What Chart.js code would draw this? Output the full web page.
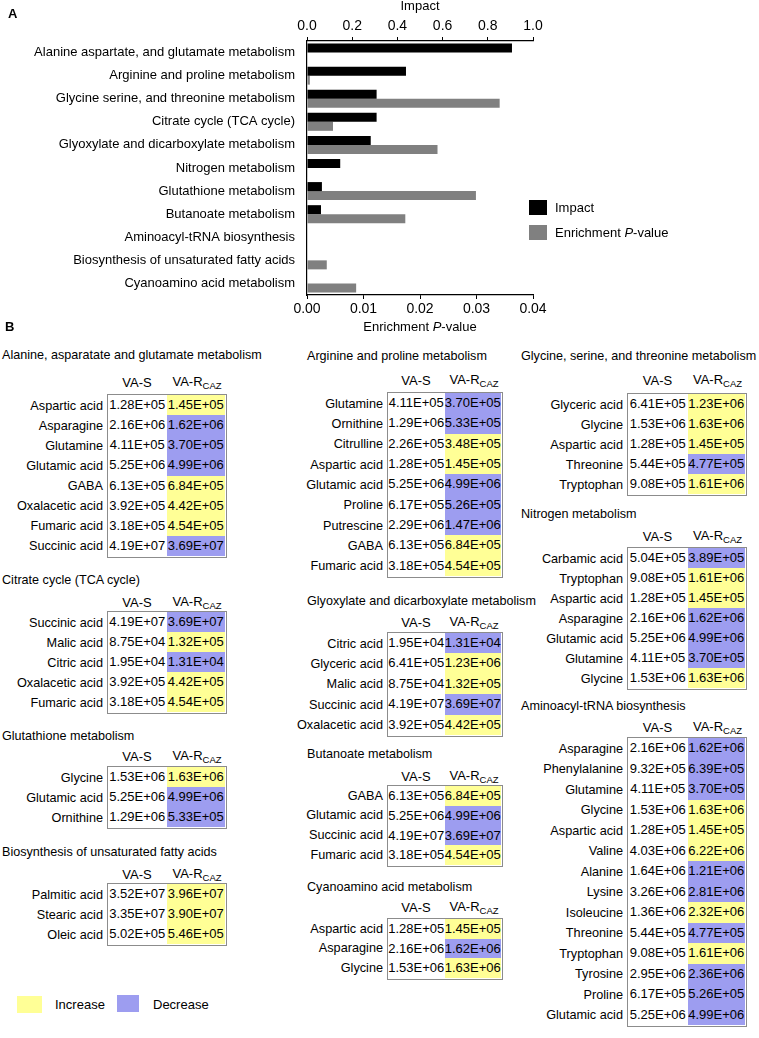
<!DOCTYPE html>
<html lang="en">
<head>
<meta charset="UTF-8">
<title>Pathway impact and metabolite tables</title>
<script src="https://cdn.jsdelivr.net/npm/chart.js"></script>
<style>
  body { margin: 0; background: #fff; font-family: Arial, "Liberation Sans", Helvetica, sans-serif; font-size: 13px; color: #000; }
  #page { position: relative; width: 759px; height: 1038px; overflow: hidden; }
  #bar { position: absolute; left: 0; top: 0; }
  .t { position: absolute; white-space: nowrap; line-height: 15px; height: 15px; }
  .ttl { font-size: 12.6px; }
  .box { position: absolute; box-sizing: border-box; border: 1.5px solid #8c8c8c; background: #fff; }
  .row { display: flex; }
  .row div { text-align: center; white-space: nowrap; }
  .lab { position: absolute; text-align: right; white-space: nowrap; width: 160px; font-size: 12.7px; }
  sub { font-size: 9.5px; vertical-align: -3px; line-height: 0; }
</style>
</head>
<body>
<div id="page">
  <canvas id="bar" width="560" height="322"></canvas>
</div>
<script>
// panel A
const pathways = [
  'Alanine aspartate, and glutamate metabolism',
  'Arginine and proline metabolism',
  'Glycine serine, and threonine metabolism',
  'Citrate cycle (TCA cycle)',
  'Glyoxylate and dicarboxylate metabolism',
  'Nitrogen metabolism',
  'Glutathione metabolism',
  'Butanoate metabolism',
  'Aminoacyl-tRNA biosynthesis',
  'Biosynthesis of unsaturated fatty acids',
  'Cyanoamino acid metabolism'
];
const impact = [0.907, 0.438, 0.308, 0.308, 0.282, 0.147, 0.066, 0.062, 0, 0, 0];
const pValue = [0, 0.0005, 0.0341, 0.0046, 0.0231, 0.0001, 0.0299, 0.0174, 0, 0.0035, 0.0087];

// panel B: [metabolite, VA-S, VA-R(CAZ)]
const alaAspGlu = [
  ['Aspartic acid', '1.28E+05', '1.45E+05'],
  ['Asparagine', '2.16E+06', '1.62E+06'],
  ['Glutamine', '4.11E+05', '3.70E+05'],
  ['Glutamic acid', '5.25E+06', '4.99E+06'],
  ['GABA', '6.13E+05', '6.84E+05'],
  ['Oxalacetic acid', '3.92E+05', '4.42E+05'],
  ['Fumaric acid', '3.18E+05', '4.54E+05'],
  ['Succinic acid', '4.19E+07', '3.69E+07']
];
const tcaCycle = [
  ['Succinic acid', '4.19E+07', '3.69E+07'],
  ['Malic acid', '8.75E+04', '1.32E+05'],
  ['Citric acid', '1.95E+04', '1.31E+04'],
  ['Oxalacetic acid', '3.92E+05', '4.42E+05'],
  ['Fumaric acid', '3.18E+05', '4.54E+05']
];
const glutathione = [
  ['Glycine', '1.53E+06', '1.63E+06'],
  ['Glutamic acid', '5.25E+06', '4.99E+06'],
  ['Ornithine', '1.29E+06', '5.33E+05']
];
const fattyAcids = [
  ['Palmitic acid', '3.52E+07', '3.96E+07'],
  ['Stearic acid', '3.35E+07', '3.90E+07'],
  ['Oleic acid', '5.02E+05', '5.46E+05']
];
const argPro = [
  ['Glutamine', '4.11E+05', '3.70E+05'],
  ['Ornithine', '1.29E+06', '5.33E+05'],
  ['Citrulline', '2.26E+05', '3.48E+05'],
  ['Aspartic acid', '1.28E+05', '1.45E+05'],
  ['Glutamic acid', '5.25E+06', '4.99E+06'],
  ['Proline', '6.17E+05', '5.26E+05'],
  ['Putrescine', '2.29E+06', '1.47E+06'],
  ['GABA', '6.13E+05', '6.84E+05'],
  ['Fumaric acid', '3.18E+05', '4.54E+05']
];
const glyoxylate = [
  ['Citric acid', '1.95E+04', '1.31E+04'],
  ['Glyceric acid', '6.41E+05', '1.23E+06'],
  ['Malic acid', '8.75E+04', '1.32E+05'],
  ['Succinic acid', '4.19E+07', '3.69E+07'],
  ['Oxalacetic acid', '3.92E+05', '4.42E+05']
];
const butanoate = [
  ['GABA', '6.13E+05', '6.84E+05'],
  ['Glutamic acid', '5.25E+06', '4.99E+06'],
  ['Succinic acid', '4.19E+07', '3.69E+07'],
  ['Fumaric acid', '3.18E+05', '4.54E+05']
];
const cyanoamino = [
  ['Aspartic acid', '1.28E+05', '1.45E+05'],
  ['Asparagine', '2.16E+06', '1.62E+06'],
  ['Glycine', '1.53E+06', '1.63E+06']
];
const glySerThr = [
  ['Glyceric acid', '6.41E+05', '1.23E+06'],
  ['Glycine', '1.53E+06', '1.63E+06'],
  ['Aspartic acid', '1.28E+05', '1.45E+05'],
  ['Threonine', '5.44E+05', '4.77E+05'],
  ['Tryptophan', '9.08E+05', '1.61E+06']
];
const nitrogen = [
  ['Carbamic acid', '5.04E+05', '3.89E+05'],
  ['Tryptophan', '9.08E+05', '1.61E+06'],
  ['Aspartic acid', '1.28E+05', '1.45E+05'],
  ['Asparagine', '2.16E+06', '1.62E+06'],
  ['Glutamic acid', '5.25E+06', '4.99E+06'],
  ['Glutamine', '4.11E+05', '3.70E+05'],
  ['Glycine', '1.53E+06', '1.63E+06']
];
const aminoacylTrna = [
  ['Asparagine', '2.16E+06', '1.62E+06'],
  ['Phenylalanine', '9.32E+05', '6.39E+05'],
  ['Glutamine', '4.11E+05', '3.70E+05'],
  ['Glycine', '1.53E+06', '1.63E+06'],
  ['Aspartic acid', '1.28E+05', '1.45E+05'],
  ['Valine', '4.03E+06', '6.22E+06'],
  ['Alanine', '1.64E+06', '1.21E+06'],
  ['Lysine', '3.26E+06', '2.81E+06'],
  ['Isoleucine', '1.36E+06', '2.32E+06'],
  ['Threonine', '5.44E+05', '4.77E+05'],
  ['Tryptophan', '9.08E+05', '1.61E+06'],
  ['Tyrosine', '2.95E+06', '2.36E+06'],
  ['Proline', '6.17E+05', '5.26E+05'],
  ['Glutamic acid', '5.25E+06', '4.99E+06']
];

const UP = '#ffff96', DOWN = '#9d9df0';

const page = document.getElementById('page');
function put(html, css, cls) {
  const d = document.createElement('div');
  d.className = 't' + (cls ? ' ' + cls : '');
  d.innerHTML = html;
  Object.assign(d.style, css);
  page.appendChild(d);
  return d;
}

// title x, left / middle / right of box, title y, header y, box top / bottom
const col1 = { tx: 2, l: 107, m: 167, r: 227 };
const col2 = { tx: 307, l: 387, m: 445, r: 503 };
const col3 = { tx: 521, l: 627, m: 688, r: 747 };
const tables = [
  [col1, 'Alanine, asparatate and glutamate metabolism', alaAspGlu, 356, 383, 394, 558],
  [col1, 'Citrate cycle (TCA cycle)', tcaCycle, 581, 603, 611, 714],
  [col1, 'Glutathione metabolism', glutathione, 737, 757, 766, 829],
  [col1, 'Biosynthesis of unsaturated fatty acids', fattyAcids, 853, 875, 883, 946],
  [col2, 'Arginine and proline metabolism', argPro, 357, 381, 392, 578],
  [col2, 'Glyoxylate and dicarboxylate metabolism', glyoxylate, 602, 623, 632, 737],
  [col2, 'Butanoate metabolism', butanoate, 755, 777, 785, 867],
  [col2, 'Cyanoamino acid metabolism', cyanoamino, 888, 908, 918, 980],
  [col3, 'Glycine, serine, and threonine metabolism', glySerThr, 357, 381, 393, 496],
  [col3, 'Nitrogen metabolism', nitrogen, 515, 537, 547, 690],
  [col3, 'Aminoacyl-tRNA biosynthesis', aminoacylTrna, 707, 728, 737, 1027]
];

tables.forEach(([c, title, rows, ty, hy, top, bot]) => {
  put(title, { left: c.tx + 'px', top: (ty - 8) + 'px' }, 'ttl');
  put('VA-S', { left: c.l + 'px', width: (c.m - c.l) + 'px', textAlign: 'center', top: (hy - 8) + 'px' });
  put('VA-R<sub>CAZ</sub>', { left: c.m + 'px', width: (c.r - c.m) + 'px', textAlign: 'center', top: (hy - 9) + 'px' });
  const box = document.createElement('div');
  box.className = 'box';
  Object.assign(box.style, { left: c.l + 'px', top: top + 'px', width: (c.r - c.l) + 'px', height: (bot - top) + 'px' });
  const rh = (bot - top - 3) / rows.length;
  const wl = c.m - c.l - 1.5, wr = c.r - c.m - 1.5;
  rows.forEach(([name, s, r], i) => {
    const row = document.createElement('div');
    row.className = 'row';
    row.style.height = rh + 'px';
    row.style.lineHeight = rh + 'px';
    const a = document.createElement('div');
    a.style.width = wl + 'px';
    a.textContent = s;
    const b = document.createElement('div');
    b.style.width = wr + 'px';
    b.style.background = parseFloat(r) > parseFloat(s) ? UP : DOWN;
    b.textContent = r;
    row.appendChild(a);
    row.appendChild(b);
    box.appendChild(row);
    const lab = document.createElement('div');
    lab.className = 'lab';
    lab.textContent = name;
    Object.assign(lab.style, { left: (c.l - 164) + 'px', top: (top + 1.5 + i * rh) + 'px', height: rh + 'px', lineHeight: rh + 'px' });
    page.appendChild(lab);
  });
  page.appendChild(box);
});

// panel letters, legends, axis title
put('<b>A</b>', { left: '8px', top: '6px', fontSize: '13px' });
put('<b>B</b>', { left: '5px', top: '319px', fontSize: '13px' });
put('Enrichment <i>P</i>-value', { left: '320px', width: '200px', textAlign: 'center', top: '319px' });
put('', { left: '529px', top: '200px', width: '18px', height: '15px', background: '#000' });
put('', { left: '529px', top: '225px', width: '18px', height: '15px', background: '#808080' });
put('Impact', { left: '555px', top: '200px' });
put('Enrichment <i>P</i>-value', { left: '555px', top: '225px' });
put('', { left: '17px', top: '996px', width: '25px', height: '17px', background: UP });
put('Increase', { left: '55px', top: '997px' });
put('', { left: '117px', top: '995px', width: '22px', height: '17px', background: DOWN });
put('Decrease', { left: '153px', top: '997px' });

const fam = 'Arial, "Liberation Sans", sans-serif';
const labelFont = { family: fam, size: 13 };
const tickFont = { family: fam, size: 14 };
new Chart(document.getElementById('bar'), {
  type: 'bar',
  data: {
    labels: pathways,
    datasets: [
      { label: 'Impact', data: impact, xAxisID: 'x2', backgroundColor: '#000' },
      { label: 'Enrichment P-value', data: pValue, xAxisID: 'x', backgroundColor: '#808080' }
    ]
  },
  options: {
    indexAxis: 'y',
    responsive: false,
    animation: false,
    categoryPercentage: 0.78,
    barPercentage: 1,
    layout: { padding: { left: 0, right: 27, top: 0, bottom: 0 } },
    plugins: { legend: { display: false }, tooltip: { enabled: false } },
    scales: {
      y: {
        type: 'category',
        grid: { drawOnChartArea: false, drawTicks: false },
        border: { display: true, color: '#000', width: 1.2 },
        ticks: { color: '#000', font: labelFont, padding: 12, autoSkip: false },
        afterFit: s => { s.width = 307; }
      },
      x2: {
        position: 'top',
        min: 0, max: 1,
        grid: { drawOnChartArea: false, drawTicks: true, tickLength: 4, color: '#000' },
        border: { display: true, color: '#000', width: 1.2 },
        ticks: { stepSize: 0.2, color: '#000', font: tickFont, padding: 2, maxRotation: 0, callback: v => v.toFixed(1) },
        title: { display: true, text: 'Impact', color: '#000', font: labelFont, padding: { top: -1, bottom: 0 } },
        afterFit: s => { s.height = 41; }
      },
      x: {
        position: 'bottom',
        min: 0, max: 0.04,
        grid: { drawOnChartArea: false, drawTicks: true, tickLength: 4, color: '#000' },
        border: { display: true, color: '#000', width: 1.2 },
        ticks: { stepSize: 0.01, color: '#000', font: tickFont, padding: 2, maxRotation: 0, callback: v => v.toFixed(2) },
        afterFit: s => { s.height = 27; }
      }
    }
  }
});
</script>
</body>
</html>
